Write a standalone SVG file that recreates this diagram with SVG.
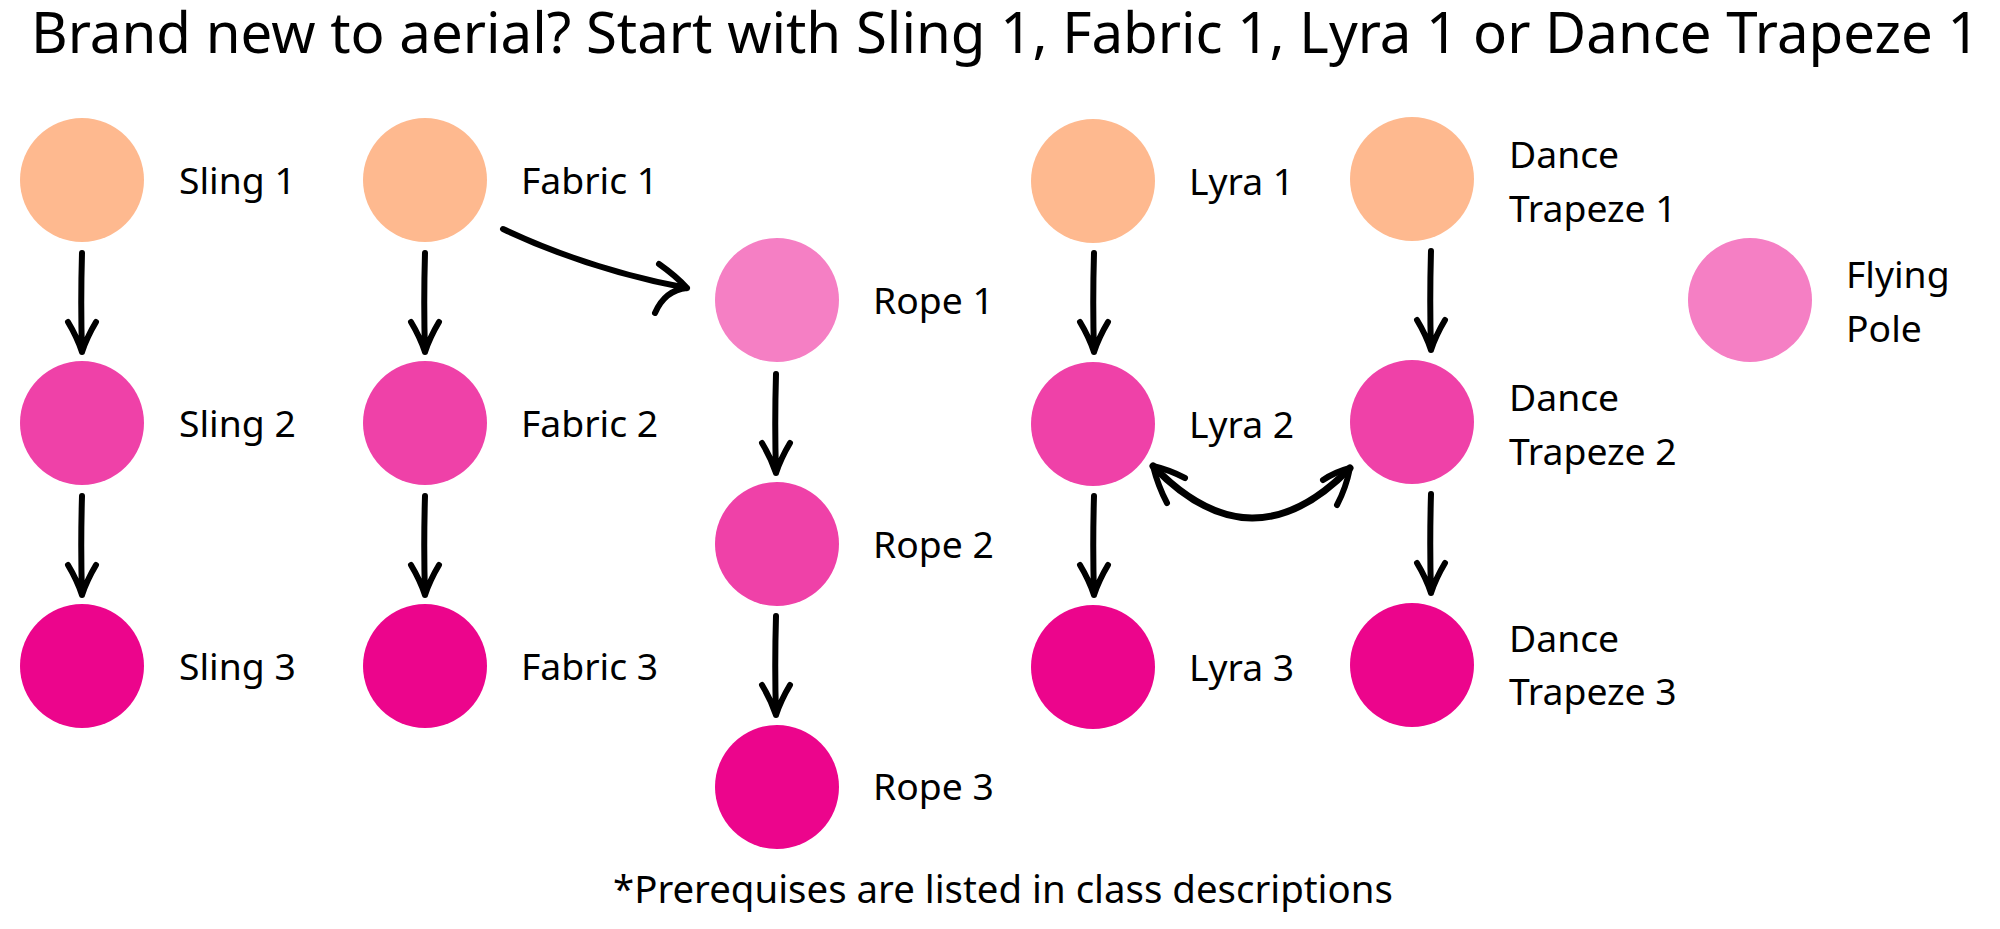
<svg xmlns="http://www.w3.org/2000/svg" width="2000" height="929" viewBox="0 0 2000 929">
<style>
text{font-family:"Noto Sans","Open Sans","Liberation Sans",sans-serif;fill:#000}
.t{font-size:56.4px}
.l{font-size:37.3px}
.f{font-size:38.4px}
.c1{fill:#FEB98F}
.c2{fill:#EF41A8}
.c3{fill:#EC058C}
.c4{fill:#F57FC4}
.a{fill:none;stroke:#000;stroke-width:6;stroke-linecap:round;stroke-linejoin:round}
</style>
<defs>
<path id="va" d="M0,0 Q-1.5,50 0,99 M-14,69 Q-5,84 0,99 M14,69 Q5,84 0,99"/>
</defs>
<rect width="2000" height="929" fill="#fff"/>
<text class="t" x="31" y="53">Brand new to aerial? Start with Sling 1, Fabric 1, Lyra 1 or Dance Trapeze 1</text>

<g id="sling1"><circle class="c1" cx="82" cy="180" r="62"/><text class="l" x="179" y="194">Sling 1</text></g>
<g id="sling2"><circle class="c2" cx="82" cy="423" r="62"/><text class="l" x="179" y="437">Sling 2</text></g>
<g id="sling3"><circle class="c3" cx="82" cy="666" r="62"/><text class="l" x="179" y="680">Sling 3</text></g>

<g id="fabric1"><circle class="c1" cx="425" cy="180" r="62"/><text class="l" x="521" y="194">Fabric 1</text></g>
<g id="fabric2"><circle class="c2" cx="425" cy="423" r="62"/><text class="l" x="521" y="437">Fabric 2</text></g>
<g id="fabric3"><circle class="c3" cx="425" cy="666" r="62"/><text class="l" x="521" y="680">Fabric 3</text></g>

<g id="rope1"><circle class="c4" cx="777" cy="300" r="62"/><text class="l" x="873" y="314">Rope 1</text></g>
<g id="rope2"><circle class="c2" cx="777" cy="544" r="62"/><text class="l" x="873" y="558">Rope 2</text></g>
<g id="rope3"><circle class="c3" cx="777" cy="787" r="62"/><text class="l" x="873" y="800">Rope 3</text></g>

<g id="lyra1"><circle class="c1" cx="1093" cy="181" r="62"/><text class="l" x="1189" y="195">Lyra 1</text></g>
<g id="lyra2"><circle class="c2" cx="1093" cy="424" r="62"/><text class="l" x="1189" y="438">Lyra 2</text></g>
<g id="lyra3"><circle class="c3" cx="1093" cy="667" r="62"/><text class="l" x="1189" y="681">Lyra 3</text></g>

<g id="trapeze1"><circle class="c1" cx="1412" cy="179" r="62"/><text class="l" x="1509" y="168">Dance</text><text class="l" x="1509" y="222">Trapeze 1</text></g>
<g id="trapeze2"><circle class="c2" cx="1412" cy="422" r="62"/><text class="l" x="1509" y="411">Dance</text><text class="l" x="1509" y="465">Trapeze 2</text></g>
<g id="trapeze3"><circle class="c3" cx="1412" cy="665" r="62"/><text class="l" x="1509" y="652">Dance</text><text class="l" x="1509" y="705">Trapeze 3</text></g>

<g id="flyingpole"><circle class="c4" cx="1750" cy="300" r="62"/><text class="l" x="1846" y="288">Flying</text><text class="l" x="1846" y="342">Pole</text></g>

<g id="connectors" class="a">
<use href="#va" x="82" y="253"/>
<use href="#va" x="82" y="496"/>
<use href="#va" x="425" y="253"/>
<use href="#va" x="425" y="496"/>
<use href="#va" x="776" y="374"/>
<use href="#va" x="776" y="616"/>
<use href="#va" x="1094" y="253"/>
<use href="#va" x="1094" y="496"/>
<use href="#va" x="1431" y="251"/>
<use href="#va" x="1431" y="494"/>
<path d="M503,229 Q590,270 687,288 M659,264 Q676,276 687,288 M687,288 Q665,290 655,313"/>
<path d="M1153,466 Q1252,569 1350,468" style="stroke-width:7"/>
<path d="M1153,466 Q1170,470 1185,478 M1153,466 Q1158,486 1167,503 M1350,468 Q1335,472 1323,480 M1350,468 Q1346,488 1337,505"/>
</g>

<text class="f" x="613" y="903">*Prerequises are listed in class descriptions</text>
</svg>
